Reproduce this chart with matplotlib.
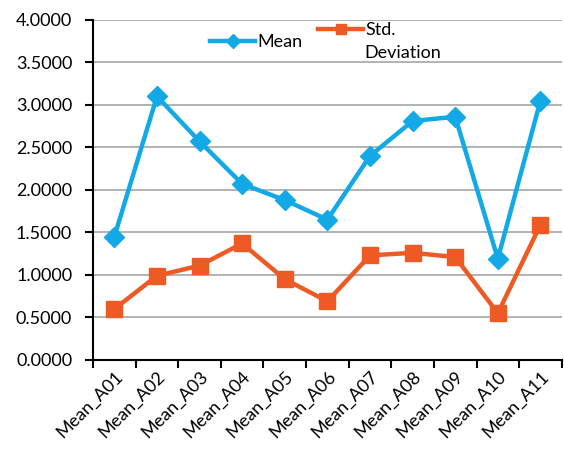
import numpy as np
import matplotlib.pyplot as plt

categories = ["Mean_A01", "Mean_A02", "Mean_A03", "Mean_A04", "Mean_A05", "Mean_A06",
              "Mean_A07", "Mean_A08", "Mean_A09", "Mean_A10", "Mean_A11"]
mean_vals = [1.45, 3.10, 2.57, 2.07, 1.88, 1.65, 2.40, 2.81, 2.86, 1.19, 3.05]
std_vals = [0.60, 0.99, 1.11, 1.37, 0.95, 0.69, 1.23, 1.26, 1.21, 0.55, 1.59]
y_ticks = [0.0, 0.5, 1.0, 1.5, 2.0, 2.5, 3.0, 3.5, 4.0]

plt.rcParams['font.family'] = ['Lato', 'DejaVu Sans']
FS = 13

fig = plt.figure(figsize=(5.64, 4.5), dpi=100)
ax = fig.add_axes([0.165, 0.2, 0.831, 0.756])

x = np.arange(len(categories))
l_mean, = ax.plot(x, mean_vals, color="#12A9E6", lw=3.2, marker="D", ms=10, zorder=3)
l_std, = ax.plot(x, std_vals, color="#EE5A24", lw=3.2, marker="s", ms=11, zorder=3)

ax.set_xlim(-0.5, len(categories) - 0.5)
ax.set_ylim(0, 4)
ax.set_yticks(y_ticks)
ax.set_yticklabels([f"{v:.4f}" for v in y_ticks], fontsize=FS)
ax.yaxis.grid(True, color="#A6A6A6", lw=1.2)
ax.set_axisbelow(True)

# category ticks sit between the points, labels at the points
ax.set_xticks(np.arange(-0.5, len(categories)))
ax.set_xticklabels([])
ax.set_xticks(x, minor=True)
ax.set_xticklabels(categories, minor=True, rotation=45, ha="right", rotation_mode="anchor", fontsize=FS)
ax.tick_params(axis="x", which="minor", length=0, pad=6)
ax.tick_params(axis="x", which="major", length=6, width=1.5, direction="out")
ax.tick_params(axis="y", length=6, width=1.5, direction="out", pad=9)

for s in ["top", "right"]:
    ax.spines[s].set_visible(False)
for s in ["left", "bottom"]:
    ax.spines[s].set_linewidth(1.5)
    ax.spines[s].set_color("black")

# legend: two entries, the second label wraps onto a second line
leg_kw = dict(frameon=False, fontsize=FS, borderpad=0, borderaxespad=0,
              handlelength=2.5, handletextpad=0.15, markerscale=0.7,
              loc="center left", bbox_transform=fig.transFigure)
leg1 = fig.legend([l_mean], ["Mean"], bbox_to_anchor=(210 / 564, 1 - 42 / 450), **leg_kw)
fig.legend([l_std], ["Std."], bbox_to_anchor=(318 / 564, 1 - 30 / 450), **leg_kw)
fig.text(364 / 564, 1 - 53 / 450, "Deviation", fontsize=FS, va="center", ha="left")

fig.savefig("out.png", dpi=100)
